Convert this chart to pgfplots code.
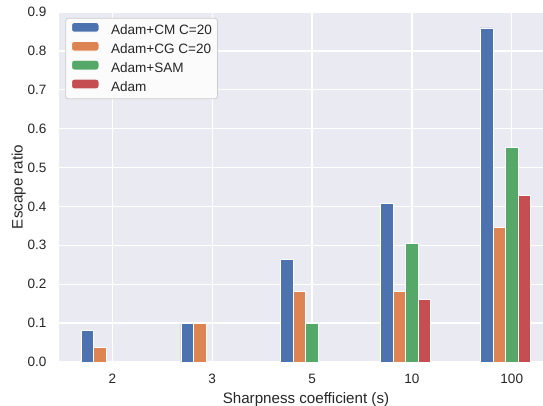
\documentclass[border=0pt]{standalone}
\usepackage{pgfplots}
\pgfplotsset{compat=1.18}
\usetikzlibrary{calc}
\usepackage{fontspec}
\setmainfont{Liberation Sans}
\definecolor{sbblue}{HTML}{4C72B0}
\definecolor{sborange}{HTML}{DD8452}
\definecolor{sbgreen}{HTML}{55A868}
\definecolor{sbred}{HTML}{C44E52}
\definecolor{sbbg}{HTML}{EAEAF2}
\begin{document}
\begin{tikzpicture}
\begin{axis}[
  scale only axis, width=483.7bp, height=350bp,
  xmin=-0.531, xmax=4.313, ymin=0, ymax=0.9,
  axis background/.style={fill=sbbg},
  axis line style={draw=none},
  grid=major, major grid style={white, line width=1.3bp},
  xtick={0,1,2,3,4}, xticklabels={2,3,5,10,100},
  ytick={0,0.1,0.2,0.3,0.4,0.5,0.6,0.7,0.8,0.9},
  major tick length=0pt,
  /pgf/number format/assume math mode=true,
  tick label style={font=\fontsize{13.6}{16}\selectfont, text=black!85},
  yticklabel style={anchor=east, inner sep=0pt, xshift=-12.6bp, /pgf/number format/.cd, fixed, fixed zerofill, precision=1},
  xticklabel style={anchor=base, inner sep=0pt, yshift=-22bp},
  xlabel={Sharpness coefficient (s)},
  ylabel={Escape ratio},
  label style={font=\fontsize{15.2}{17}\selectfont, text=black!85},
  xlabel style={at={(axis description cs:0.51,-0.1186)}, anchor=base},
  ylabel style={at={(axis description cs:-0.0760,0.5)}, anchor=base, rotate=0},
  ybar, bar width=0.125,
  legend image code/.code={\draw[#1, draw=white, line width=0.8bp] (0bp,-0.4bp) rectangle (27.3bp,9.2bp);},
  legend cell align=left,
  legend style={at={(axis description cs:0.0124,0.983)}, anchor=north west,
    fill=white!80!sbbg, draw=black!20, line width=0.8bp, rounded corners=2.5bp,
    font=\fontsize{13.6}{16}\selectfont, text=black!85, inner xsep=5.5bp, inner ysep=3.8bp,
    nodes={inner sep=0pt, text height=9.7bp, text depth=3.5bp}, row sep=2.7bp,
    /tikz/every odd column/.append style={column sep=11.7bp}},
]
\addplot[fill=sbblue, draw=white, line width=0.8bp, bar shift=-0.25] coordinates {(0,0.08) (1,0.10) (2,0.263) (3,0.407) (4,0.859)};
\addplot[fill=sborange, draw=white, line width=0.8bp, bar shift=-0.125] coordinates {(0,0.038) (1,0.10) (2,0.182) (3,0.181) (4,0.345)};
\addplot[fill=sbgreen, draw=white, line width=0.8bp, bar shift=0] coordinates {(2,0.10) (3,0.304) (4,0.551)};
\addplot[fill=sbred, draw=white, line width=0.8bp, bar shift=0.125] coordinates {(3,0.161) (4,0.428)};
\legend{Adam+CM C=20, Adam+CG C=20, Adam+SAM, Adam}
\end{axis}
\pgfresetboundingbox
\path[use as bounding box] ($(current axis.south west)+(-59.3bp,-44bp)$) rectangle ($(current axis.north east)+(0bp,12bp)$);
\end{tikzpicture}
\end{document}
